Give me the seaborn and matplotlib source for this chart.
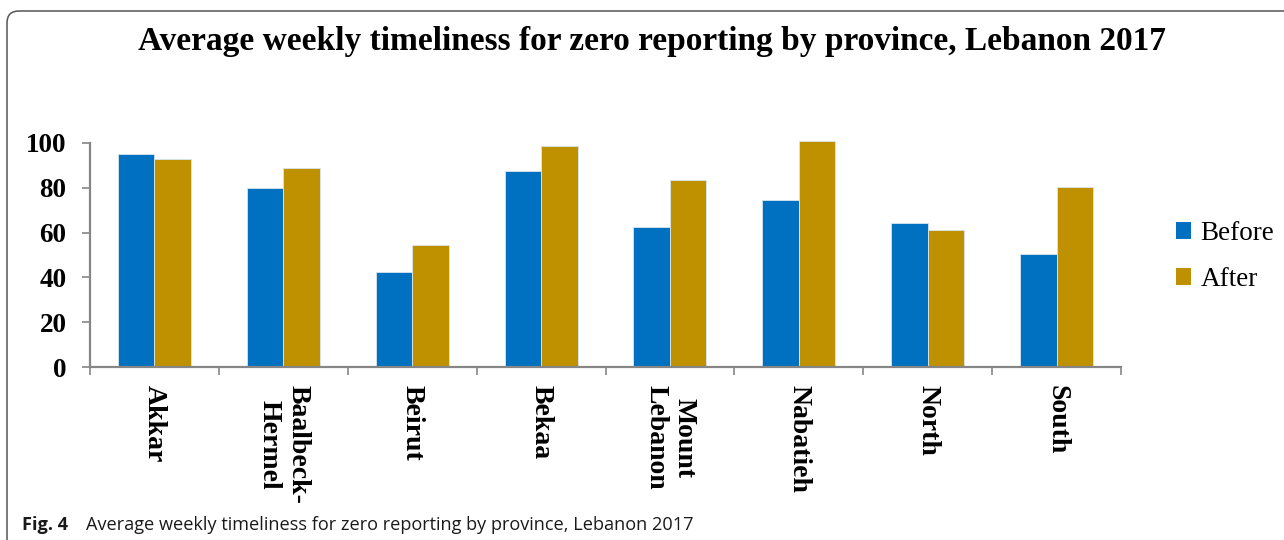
import numpy as np
import pandas as pd
import matplotlib
matplotlib.use("Agg")
import matplotlib.pyplot as plt
from matplotlib.patches import FancyBboxPatch, Patch
from matplotlib.transforms import IdentityTransform
import seaborn as sns

provinces = ["Akkar", "Baalbeck-\nHermel", "Beirut", "Bekaa", "Mount\nLebanon",
             "Nabatieh", "North", "South"]
before = [95.0, 80.0, 42.3, 87.4, 62.3, 74.6, 64.1, 50.4]
after = [92.9, 88.7, 54.3, 98.5, 83.2, 100.6, 61.0, 80.1]
series = ["Before", "After"]
colors = ["#0070C0", "#BF9000"]
yticks = [0, 20, 40, 60, 80, 100]

title = "Average weekly timeliness for zero reporting by province, Lebanon 2017"
caption_bold = "Fig. 4"
caption_text = "Average weekly timeliness for zero reporting by province, Lebanon 2017"

df = pd.DataFrame({
    "province": provinces * 2,
    "value": before + after,
    "period": [series[0]] * len(provinces) + [series[1]] * len(provinces),
})

sns.set_theme(style="white")
plt.rcParams["font.family"] = ["Liberation Serif", "DejaVu Serif"]
plt.rcParams["text.color"] = "black"
plt.rcParams["xtick.labelcolor"] = "black"
plt.rcParams["ytick.labelcolor"] = "black"

fig = plt.figure(figsize=(12.84, 5.4), dpi=100)
ax = fig.add_axes([90 / 1284, 172.7 / 540, 1031 / 1284, 224.6 / 540])

sns.barplot(data=df, x="province", y="value", hue="period", order=provinces,
            hue_order=series, palette=colors, width=0.567, ax=ax,
            saturation=1, edgecolor="#d8e6f0", linewidth=0.6, legend=False)
for p in ax.patches:
    p.set_clip_on(False)

ax.set_xlim(-0.5, len(provinces) - 0.5)
ax.set_ylim(0, 100)
ax.set_xlabel("")
ax.set_ylabel("")

spine_col = "#868686"
for s in ["top", "right"]:
    ax.spines[s].set_visible(False)
for s in ["left", "bottom"]:
    ax.spines[s].set_color(spine_col)
    ax.spines[s].set_linewidth(1.6)

ax.set_yticks(yticks)
ax.set_yticklabels([str(v) for v in yticks], fontsize=19.5, fontweight="bold",
                   color="black")
ax.tick_params(axis="y", direction="out", length=6, width=1.2, color=spine_col,
               pad=11, left=True)

ax.set_xticks(range(len(provinces)))
ax.set_xticklabels(provinces, rotation=270, fontsize=20, fontweight="bold",
                   va="top", ha="center", multialignment="center", color="black")
ax.tick_params(axis="x", which="major", length=0, pad=13)
ax.set_xticks(np.arange(-0.5, len(provinces)), minor=True)
ax.tick_params(axis="x", which="minor", direction="out", length=6, width=1.2,
               color=spine_col, bottom=True)

fig.text(651.5 / 1284, 490 / 540, title, ha="center", va="baseline",
         fontsize=24, fontweight="bold", color="black")

handles = [Patch(facecolor=c, edgecolor="none") for c in colors]
fig.legend(handles, series, loc="center left",
           bbox_to_anchor=(1176 / 1284, (540 - 256.5) / 540),
           frameon=False, fontsize=19.5, handlelength=0.55, handleheight=0.55,
           handletextpad=0.35, labelspacing=0.77, borderpad=0, borderaxespad=0)

border = FancyBboxPatch((7, -60), 1400, 60 + 529, boxstyle="round,pad=0,rounding_size=12",
                        transform=IdentityTransform(), facecolor="none",
                        edgecolor="#555555", linewidth=1.1)
fig.patches.append(border)

fig.text(22 / 1284, 10 / 540, caption_bold, ha="left", va="baseline",
         fontsize=13.05, fontweight="bold", family=["Open Sans", "DejaVu Sans"],
         color="#1a1a1a")
fig.text(86 / 1284, 10 / 540, caption_text, ha="left", va="baseline",
         fontsize=13.05, family=["Open Sans", "DejaVu Sans"], color="#1a1a1a")

fig.savefig("out.png", dpi=100)
